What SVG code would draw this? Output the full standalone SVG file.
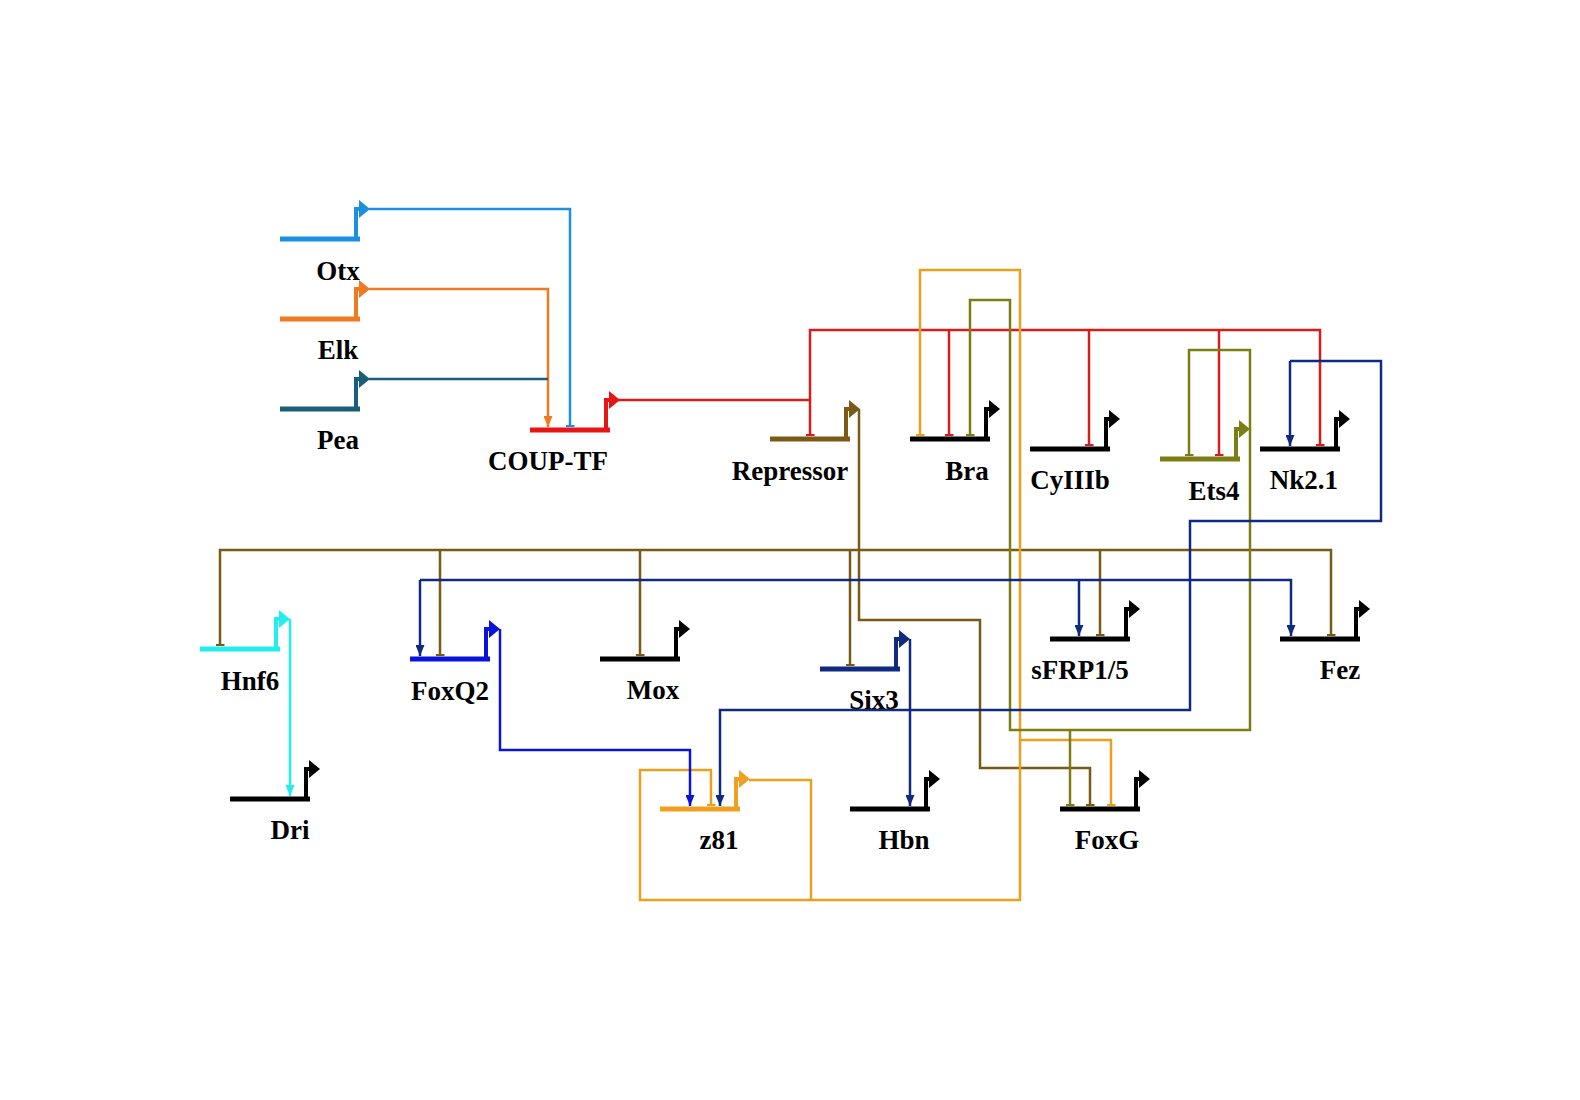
<svg xmlns="http://www.w3.org/2000/svg" xmlns:xlink="http://www.w3.org/1999/xlink" width="1580" height="1100" viewBox="0 0 1580 1100">
<style>
.lbl{font-family:"Liberation Serif","Times New Roman",serif;font-weight:bold;font-size:27px;text-anchor:middle;fill:#000}
.c{fill:none;stroke-width:2.5;stroke-linejoin:miter}
.otx{stroke:#1c8fe0}
.elk{stroke:#f07a22}
.pea{stroke:#1a5f7a}
.red{stroke:#d81c1c}
.brn{stroke:#7a5a14}
.gold{stroke:#e8a020}
.olv{stroke:#7d7d15}
.navy{stroke:#102a80}
.blu{stroke:#0a14d8}
.cyn{stroke:#22eeee}
</style>
<defs>
<g id="prom">
<path d="M-80,0 H0" fill="none" stroke="currentColor" stroke-width="5"/>
<path d="M-4,0 V-30 H0" fill="none" stroke="currentColor" stroke-width="4"/>
<path d="M-1,-39 L10,-30 L-1,-21 Z" fill="currentColor"/>
</g>
<marker id="a-elk" viewBox="0 0 11 9" refX="11" refY="4.5" markerWidth="11" markerHeight="9" markerUnits="userSpaceOnUse" orient="auto"><path d="M0,0 L11,4.5 L0,9 z" fill="#f07a22"/></marker>
<marker id="a-navy" viewBox="0 0 11 9" refX="11" refY="4.5" markerWidth="11" markerHeight="9" markerUnits="userSpaceOnUse" orient="auto"><path d="M0,0 L11,4.5 L0,9 z" fill="#102a80"/></marker>
<marker id="a-blu" viewBox="0 0 11 9" refX="11" refY="4.5" markerWidth="11" markerHeight="9" markerUnits="userSpaceOnUse" orient="auto"><path d="M0,0 L11,4.5 L0,9 z" fill="#0a14d8"/></marker>
<marker id="a-cyn" viewBox="0 0 11 9" refX="11" refY="4.5" markerWidth="11" markerHeight="9" markerUnits="userSpaceOnUse" orient="auto"><path d="M0,0 L11,4.5 L0,9 z" fill="#22eeee"/></marker>
<marker id="t-otx" viewBox="0 0 2 9" refX="1" refY="4.5" markerWidth="2" markerHeight="9" markerUnits="userSpaceOnUse" orient="auto"><rect width="2" height="9" fill="#1c8fe0"/></marker>
<marker id="t-red" viewBox="0 0 2 9" refX="1" refY="4.5" markerWidth="2" markerHeight="9" markerUnits="userSpaceOnUse" orient="auto"><rect width="2" height="9" fill="#d81c1c"/></marker>
<marker id="t-brn" viewBox="0 0 2 9" refX="1" refY="4.5" markerWidth="2" markerHeight="9" markerUnits="userSpaceOnUse" orient="auto"><rect width="2" height="9" fill="#7a5a14"/></marker>
<marker id="t-gold" viewBox="0 0 2 9" refX="1" refY="4.5" markerWidth="2" markerHeight="9" markerUnits="userSpaceOnUse" orient="auto"><rect width="2" height="9" fill="#e8a020"/></marker>
<marker id="t-olv" viewBox="0 0 2 9" refX="1" refY="4.5" markerWidth="2" markerHeight="9" markerUnits="userSpaceOnUse" orient="auto"><rect width="2" height="9" fill="#7d7d15"/></marker>
</defs>
<rect width="1580" height="1100" fill="#fff"/>

<g id="connectors">
<path class="c otx" d="M369,209 H570 V426" marker-end="url(#t-otx)"/>
<path class="c elk" d="M369,289 H548 V427" marker-end="url(#a-elk)"/>
<path class="c pea" d="M369,379 H548"/>
<path class="c red" d="M618,400 H810"/>
<path class="c red" d="M810,435 V330 H1320 V445" marker-end="url(#t-red)" marker-start="url(#t-red)"/>
<path class="c red" d="M949,330 V435" marker-end="url(#t-red)"/>
<path class="c red" d="M1089,330 V445" marker-end="url(#t-red)"/>
<path class="c red" d="M1219,330 V455" marker-end="url(#t-red)"/>
<path class="c brn" d="M859,409 V620 H980 V768 H1090 V805" marker-end="url(#t-brn)"/>
<path class="c brn" d="M220,645 V550 H1331 V635" marker-end="url(#t-brn)" marker-start="url(#t-brn)"/>
<path class="c brn" d="M440,550 V655" marker-end="url(#t-brn)"/>
<path class="c brn" d="M640,550 V655" marker-end="url(#t-brn)"/>
<path class="c brn" d="M850,550 V665" marker-end="url(#t-brn)"/>
<path class="c brn" d="M1100,550 V635" marker-end="url(#t-brn)"/>
<path class="c gold" d="M920,435 V270 H1020 V900 H640 V770 H711 V805" marker-end="url(#t-gold)" marker-start="url(#t-gold)"/>
<path class="c gold" d="M749,780 H811 V900"/>
<path class="c gold" d="M1020,740 H1111 V805" marker-end="url(#t-gold)"/>
<path class="c olv" d="M1250,430 V350 H1189 V455" marker-end="url(#t-olv)"/>
<path class="c olv" d="M1250,430 V730 H1010 V300 H970 V435" marker-end="url(#t-olv)"/>
<path class="c olv" d="M1070,730 V805" marker-end="url(#t-olv)"/>
<path class="c navy" d="M910,639 V806" marker-end="url(#a-navy)"/>
<path class="c navy" d="M420,580 H1291 V636" marker-end="url(#a-navy)"/>
<path class="c navy" d="M420,580 V656" marker-end="url(#a-navy)"/>
<path class="c navy" d="M1079,580 V636" marker-end="url(#a-navy)"/>
<path class="c navy" d="M1290,361 H1381 V521 H1190 V710 H720 V806" marker-end="url(#a-navy)"/>
<path class="c navy" d="M1290,361 V446" marker-end="url(#a-navy)"/>
<path class="c blu" d="M500,629 V750 H690 V806" marker-end="url(#a-blu)"/>
<path class="c cyn" d="M290,619 V796" marker-end="url(#a-cyn)"/>
</g>

<g id="otx"><use xlink:href="#prom" href="#prom" x="360" y="239" style="color:#1c8fe0"/><text class="lbl" x="338" y="280">Otx</text></g>
<g id="elk"><use xlink:href="#prom" href="#prom" x="360" y="319" style="color:#f07a22"/><text class="lbl" x="338" y="359">Elk</text></g>
<g id="pea"><use xlink:href="#prom" href="#prom" x="360" y="409" style="color:#1a5f7a"/><text class="lbl" x="338" y="449">Pea</text></g>
<g id="couptf"><use xlink:href="#prom" href="#prom" x="610" y="430" style="color:#e81515"/><text class="lbl" x="548" y="470">COUP-TF</text></g>
<g id="repressor"><use xlink:href="#prom" href="#prom" x="850" y="439" style="color:#7a5a14"/><text class="lbl" x="790" y="480">Repressor</text></g>
<g id="bra"><use xlink:href="#prom" href="#prom" x="990" y="439" style="color:#000"/><text class="lbl" x="967" y="480">Bra</text></g>
<g id="cyiiib"><use xlink:href="#prom" href="#prom" x="1110" y="449" style="color:#000"/><text class="lbl" x="1070" y="489">CyIIIb</text></g>
<g id="ets4"><use xlink:href="#prom" href="#prom" x="1240" y="459" style="color:#7d7d15"/><text class="lbl" x="1214" y="500">Ets4</text></g>
<g id="nk21"><use xlink:href="#prom" href="#prom" x="1340" y="449" style="color:#000"/><text class="lbl" x="1304" y="489">Nk2.1</text></g>
<g id="hnf6"><use xlink:href="#prom" href="#prom" x="280" y="649" style="color:#22eeee"/><text class="lbl" x="250" y="690">Hnf6</text></g>
<g id="foxq2"><use xlink:href="#prom" href="#prom" x="490" y="659" style="color:#0a14d8"/><text class="lbl" x="450" y="700">FoxQ2</text></g>
<g id="mox"><use xlink:href="#prom" href="#prom" x="680" y="659" style="color:#000"/><text class="lbl" x="653" y="699">Mox</text></g>
<g id="six3"><use xlink:href="#prom" href="#prom" x="900" y="669" style="color:#102a80"/><text class="lbl" x="874" y="709">Six3</text></g>
<g id="sfrp"><use xlink:href="#prom" href="#prom" x="1130" y="639" style="color:#000"/><text class="lbl" x="1080" y="679">sFRP1/5</text></g>
<g id="fez"><use xlink:href="#prom" href="#prom" x="1360" y="639" style="color:#000"/><text class="lbl" x="1340" y="679">Fez</text></g>
<g id="dri"><use xlink:href="#prom" href="#prom" x="310" y="799" style="color:#000"/><text class="lbl" x="290" y="839">Dri</text></g>
<g id="z81"><use xlink:href="#prom" href="#prom" x="740" y="809" style="color:#f0a020"/><text class="lbl" x="719" y="849">z81</text></g>
<g id="hbn"><use xlink:href="#prom" href="#prom" x="930" y="809" style="color:#000"/><text class="lbl" x="904" y="849">Hbn</text></g>
<g id="foxg"><use xlink:href="#prom" href="#prom" x="1140" y="809" style="color:#000"/><text class="lbl" x="1107" y="849">FoxG</text></g>
</svg>
